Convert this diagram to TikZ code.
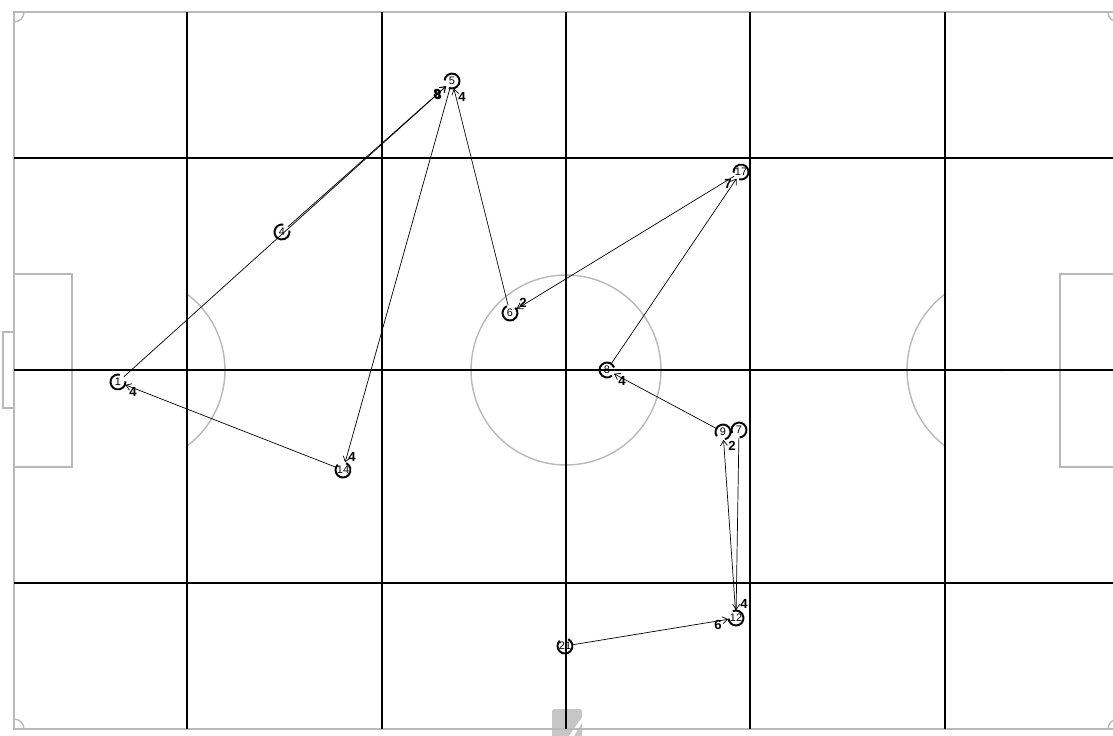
\documentclass[tikz,border=0pt]{standalone}
\usepackage{fontspec}
\setsansfont{Liberation Sans}
\usetikzlibrary{arrows.meta, calc}
\definecolor{pitchgrey}{RGB}{185,185,185}
\tikzset{
    pitch/.style={draw=pitchgrey, line width=0.8pt},
    zone/.style={draw=black, line width=1pt},
    player/.style={circle, inner sep=0pt, minimum size=0.3cm, font=\sffamily\fontsize{6.2}{6.5}\selectfont},
    ring/.style={line width=1.1pt},
    pass/.style={-{Straight Barb[length=3pt,width=4pt]}, line width=0.4pt},
    % pass count, set beside the receiving player
    lbl/.style={font=\sffamily\bfseries\fontsize{7.5}{8}\selectfont, inner sep=0pt},
}

\begin{document}
\begin{tikzpicture}[x=0.02cm, y=-0.02cm]
    \clip (0,0) rectangle (1113,735);
    \fill[white] (0,0) rectangle (1113,735);

    \fill[gray!45, rounded corners=1pt] (552,709) rectangle (582,737);
    \fill[white] (583,716) -- (583,721) -- (574,736) -- (569,736) -- cycle;

    % pitch markings
    \draw[pitch] (14,12) rectangle (1118,729);
    \draw[pitch] (14,274) rectangle (72,467);
    \draw[pitch] (1060,274) rectangle (1118,467);
    \draw[pitch] (14,332) -| (3,408) -- (14,408);
    \draw[pitch] (566,370) circle[radius=1.9cm];
    \draw[pitch] ($(130,370)+(-54:1.9cm)$) arc[start angle=-54, end angle=54, radius=1.9cm];
    \draw[pitch] ($(1002,370)+(126:1.9cm)$) arc[start angle=126, end angle=234, radius=1.9cm];
    \fill[pitchgrey] (1002,370) circle[radius=0.03cm];
    \draw[pitch] (14,22) arc[start angle=270, end angle=360, radius=0.2cm];
    \draw[pitch] (14,719) arc[start angle=90, end angle=0, radius=0.2cm];
    \draw[pitch] (1108,12) arc[start angle=180, end angle=270, radius=0.2cm];
    \draw[pitch] (1108,729) arc[start angle=180, end angle=90, radius=0.2cm];

    % zones
    \foreach \gx in {187,382,566,750,945}
        \draw[zone] (\gx,12) -- (\gx,729);
    \foreach \gy in {158,370,583}
        \draw[zone] (14,\gy) -- (1118,\gy);

    % players: number / x / y / gap of the ring
    \foreach \n/\x/\y/\g in {5/452/81/210, 1/118/382/40, 4/282/232/45, 6/510/313/80,
                             17/741/172/220, 8/607/370/345, 9/723/432/250, 7/739/430/240,
                             12/736/618/150, 21/565/646/100, 14/343/470/100} {
        \node[player] (p\n) at (\x,\y) {\n};
        \draw[ring] ($(p\n)+(\g+35:0.15cm)$) arc[start angle=\g+35, delta angle=290, radius=0.15cm];
    }

    % passes
    \draw[pass] (p1) -- (p5);
    \draw[pass] (p4) -- (p5);
    \draw[pass] (p6) -- (p5);
    \draw[pass] (p5) -- (p14);
    \draw[pass] (p14) -- (p1);
    \draw[pass] (p17) -- (p6);
    \draw[pass] (p8) -- (p17);
    \draw[pass] (p9) -- (p8);
    \draw[pass] (p12) -- (p9);
    \draw[pass] (p7) -- (p12);
    \draw[pass] (p21) -- (p12);

    \foreach \t/\dx/\dy/\s [count=\i] in {p5/-15/13/8, p5/-14/14/8, p5/10/16/4, p14/9/-13/4,
                                        p1/15/10/4, p6/13/-10/2, p17/-13/12/7, p8/15/11/4,
                                        p9/9/14/2, p12/8/-14/4, p12/-18/7/6}
        \node[lbl] (n\i) at ($(\t)+(\dx,\dy)$) {\s};
\end{tikzpicture}
\end{document}
